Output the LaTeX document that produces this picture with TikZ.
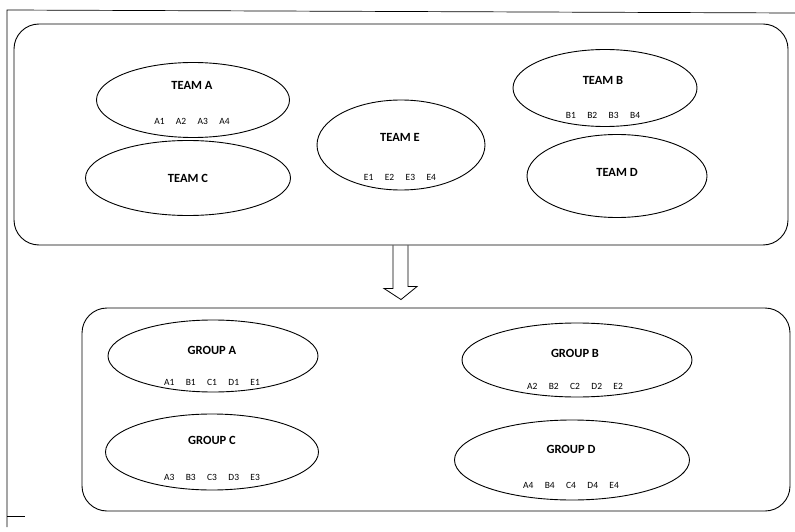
\documentclass[tikz,border=0pt]{standalone}
\usepackage{fontspec}
\setmainfont{Carlito}
\usetikzlibrary{shapes.geometric}
\newcommand{\gap}{\hspace{1.2em}}
\begin{document}
\begin{tikzpicture}[x=1pt,y=-1pt,line width=0.9pt,
  panel/.style={draw,rounded corners=25pt,inner sep=0pt},
  oval/.style={draw,ellipse,inner sep=0pt},
  title/.style={font=\bfseries\fontsize{12.5}{14}\selectfont,inner sep=0pt},
  members/.style={font=\fontsize{9.5}{11}\selectfont,inner sep=0pt}]
\useasboundingbox (0,0) rectangle (795,532);
% outer frame
\coordinate (f1) at (7,527);
\coordinate (f2) at (7,10);
\coordinate (f3) at (795,13);
\coordinate (f4) at (7,516);
\coordinate (f5) at (25,516);
\draw[line width=0.7pt] (f1) -- (f2) -- (f3);
\draw[line width=0.7pt] (f4) -- (f5);
% panels
\node[panel,minimum width=774pt,minimum height=221pt] (top) at (401,134.5) {};
\node[panel,minimum width=708pt,minimum height=203pt] (bot) at (436,409.5) {};
% teams
\node[oval,minimum width=193pt,minimum height=75pt] (ta) at (193,100) {};
\node[title] (tat) at (192,85) {TEAM A};
\node[members] (tam) at (192,121) {A1\gap A2\gap A3\gap A4};
\node[oval,minimum width=205pt,minimum height=75pt] (tc) at (188,178) {};
\node[title] (tct) at (188,178) {TEAM C};
\node[oval,minimum width=168pt,minimum height=90pt] (te) at (401,145) {};
\node[title] (tet) at (400,137) {TEAM E};
\node[members] (tem) at (400,177) {E1\gap E2\gap E3\gap E4};
\node[oval,minimum width=184pt,minimum height=77pt] (tb) at (605,88) {};
\node[title] (tbt) at (603,80) {TEAM B};
\node[members] (tbm) at (603,115) {B1\gap B2\gap B3\gap B4};
\node[oval,minimum width=180pt,minimum height=83pt] (td) at (617,176) {};
\node[title] (tdt) at (617,172) {TEAM D};
% arrow
\coordinate (a1) at ([xshift=-8pt]top.south);
\coordinate (a2) at ([xshift=7pt]top.south);
\draw[line width=0.8pt] (a1) -- ++(0,43) -- ++(-9,0) -- ([yshift=8pt]bot.north -| top.south) -- ++(16,-13) -- ++(-9,0) -- (a2);
% groups
\node[oval,minimum width=210pt,minimum height=72pt] (ga) at (213,356) {};
\node[title] (gat) at (212,350) {GROUP A};
\node[members] (gam) at (212,382) {A1\gap B1\gap C1\gap D1\gap E1};
\node[oval,minimum width=230pt,minimum height=74pt] (gb) at (577,360) {};
\node[title] (gbt) at (575,353) {GROUP B};
\node[members] (gbm) at (575,386) {A2\gap B2\gap C2\gap D2\gap E2};
\node[oval,minimum width=213pt,minimum height=76pt] (gc) at (212,452) {};
\node[title] (gct) at (212,440) {GROUP C};
\node[members] (gcm) at (212,477) {A3\gap B3\gap C3\gap D3\gap E3};
\node[oval,minimum width=235pt,minimum height=80pt] (gd) at (572,460) {};
\node[title] (gdt) at (571,449) {GROUP D};
\node[members] (gdm) at (571,485) {A4\gap B4\gap C4\gap D4\gap E4};
\end{tikzpicture}
\end{document}
